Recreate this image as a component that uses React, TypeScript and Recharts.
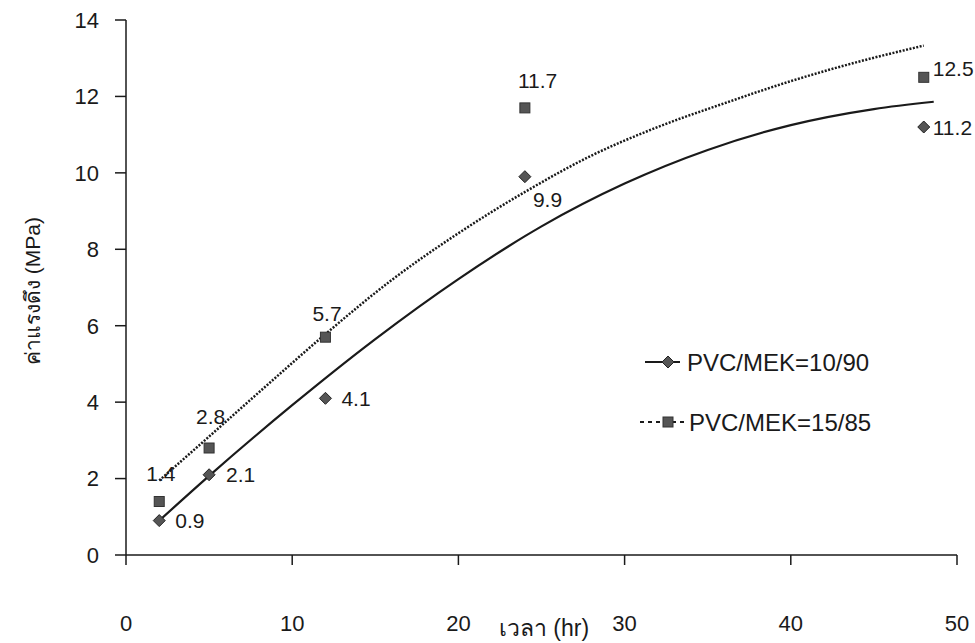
import React from 'react';
import { ScatterChart, Scatter, XAxis, YAxis } from 'recharts';

// measured points (hours vs tensile strength, MPa)
const hours = [2, 5, 12, 24, 48];
const tensile1090 = [0.9, 2.1, 4.1, 9.9, 11.2];
const tensile1585 = [1.4, 2.8, 5.7, 11.7, 12.5];

// trend lines
const trendHours1090 = [2, 5, 10, 15, 20, 25, 30, 35, 40, 45, 48.6];
const trend1090 = [0.9, 2.07, 3.92, 5.65, 7.22, 8.6, 9.72, 10.6, 11.25, 11.67, 11.86];
const trendHours1585 = [2, 5, 8.5, 12, 16, 20, 24, 28, 32, 36, 40, 44, 48];
const trend1585 = [1.95, 3.1, 4.45, 5.78, 7.2, 8.42, 9.5, 10.45, 11.2, 11.82, 12.4, 12.9, 13.33];

const xTicks = [0, 10, 20, 30, 40, 50];
const yTicks = [0, 2, 4, 6, 8, 10, 12, 14];
const seriesNames = ['PVC/MEK=10/90', 'PVC/MEK=15/85'];

const toPoints = (xs: number[], ys: number[]) => xs.map((x, i) => ({ x, y: ys[i] }));

const FONT = '"Liberation Sans", Arial, sans-serif';
const INK = '#1a1a1a';

// where each value label sits relative to its marker: [dx to text start, dy to text middle]
const offsets1090: Record<number, [number, number]> = {
  2: [16, 0], 5: [17, 0], 12: [16, 0], 24: [8, 23], 48: [9, 0],
};
const offsets1585: Record<number, [number, number]> = {
  2: [-13, -28], 5: [-13, -32], 12: [-13, -24], 24: [-7, -27], 48: [9, -9],
};

const valueText = (cx: number, cy: number, off: [number, number], v: number) => (
  <text x={cx + off[0]} y={cy + off[1]} dominantBaseline="central" fontSize={21} fontFamily={FONT} fill={INK}>
    {v.toFixed(1)}
  </text>
);

const Diamond = (props: any) => {
  const { cx, cy, payload } = props;
  const off = offsets1090[payload.x] || [12, 0];
  return (
    <g>
      <polygon points={`${cx},${cy - 6} ${cx + 6},${cy} ${cx},${cy + 6} ${cx - 6},${cy}`} fill="#555" stroke="#222" strokeWidth={1} />
      {valueText(cx, cy, off, payload.y)}
    </g>
  );
};

const Square = (props: any) => {
  const { cx, cy, payload } = props;
  const off = offsets1585[payload.x] || [12, 0];
  return (
    <g>
      <rect x={cx - 5} y={cy - 5} width={10} height={10} fill="#555" stroke="#333" strokeWidth={1} />
      {valueText(cx, cy, off, payload.y)}
    </g>
  );
};

const NoDot = () => <g />;

const LegendBox = () => (
  <svg width={280} height={100} style={{ position: 'absolute', left: 640, top: 345, overflow: 'visible' }}>
    <line x1={5} x2={40} y1={17} y2={17} stroke={INK} strokeWidth={2} />
    <polygon points="28,11 34,17 28,23 22,17" fill="#555" stroke="#222" />
    <text x={47} y={17} dominantBaseline="central" fontSize={24} fontFamily={FONT} fill={INK}>{seriesNames[0]}</text>
    <line x1={0} x2={47} y1={77} y2={77} stroke={INK} strokeWidth={2} strokeDasharray="4 4" />
    <rect x={23} y={72} width={10} height={10} fill="#555" stroke="#333" />
    <text x={49} y={77} dominantBaseline="central" fontSize={24} fontFamily={FONT} fill={INK}>{seriesNames[1]}</text>
  </svg>
);

export default function App() {
  const points1090 = toPoints(hours, tensile1090);
  const points1585 = toPoints(hours, tensile1585);
  const curve1090 = toPoints(trendHours1090, trend1090);
  const curve1585 = toPoints(trendHours1585, trend1585);

  return (
    <div style={{ position: 'relative', width: 975, height: 643, background: '#fff' }}>
      <style>{'body{margin:0}'}</style>
      <ScatterChart width={975} height={643} margin={{ top: 20, right: 18, bottom: 0, left: 0 }}>
        <XAxis
          type="number"
          dataKey="x"
          domain={[0, 50]}
          ticks={xTicks}
          height={88}
          tickSize={10}
          tickMargin={50}
          axisLine={{ stroke: INK, strokeWidth: 1.5 }}
          tickLine={{ stroke: INK, strokeWidth: 1.5 }}
          tick={{ fill: INK, fontSize: 22, fontFamily: FONT }}
          label={{
            content: () => (
              <text x={544} y={628} textAnchor="middle" dominantBaseline="central" fontSize={23} fontFamily={FONT} fill={INK}>
                เวลา (hr)
              </text>
            ),
          }}
        />
        <YAxis
          type="number"
          dataKey="y"
          domain={[0, 14]}
          ticks={yTicks}
          width={126}
          tickSize={11}
          tickMargin={16}
          axisLine={{ stroke: INK, strokeWidth: 1.5 }}
          tickLine={{ stroke: INK, strokeWidth: 1.5 }}
          tick={{ fill: INK, fontSize: 22, fontFamily: FONT }}
          label={{
            content: () => (
              <text x={32} y={291} transform="rotate(-90 32 291)" textAnchor="middle" dominantBaseline="central" fontSize={21} fontFamily={FONT} fill={INK}>
                ค่าแรงดึง (MPa)
              </text>
            ),
          }}
        />
        <Scatter
          name="trend 10/90"
          data={curve1090}
          line={{ stroke: INK, strokeWidth: 2.2 }}
          lineJointType="monotoneX"
          shape={NoDot}
          legendType="none"
          isAnimationActive={false}
        />
        <Scatter
          name="trend 15/85"
          data={curve1585}
          line={{ stroke: INK, strokeWidth: 2.5, strokeDasharray: '2 1.5' }}
          lineJointType="monotoneX"
          shape={NoDot}
          legendType="none"
          isAnimationActive={false}
        />
        <Scatter name={seriesNames[0]} data={points1090} shape={Diamond} isAnimationActive={false} />
        <Scatter name={seriesNames[1]} data={points1585} shape={Square} isAnimationActive={false} />
      </ScatterChart>
      <LegendBox />
    </div>
  );
}
